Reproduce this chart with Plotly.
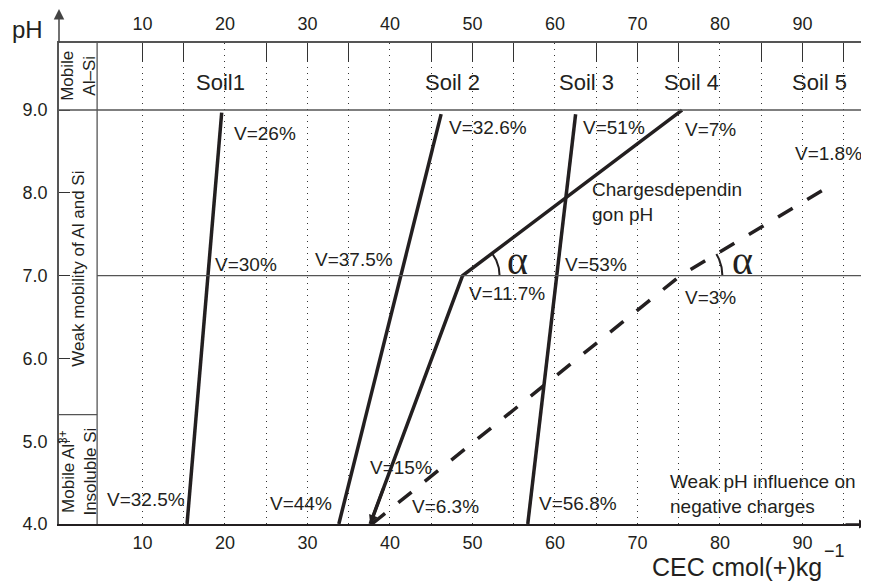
import numpy as np
import plotly.graph_objects as go

# ---------------- data ----------------
soil1_cec = [19.6, 15.4]
soil1_ph = [8.97, 4.0]
soil2_cec = [46.2, 33.8]
soil2_ph = [8.95, 4.0]
soil3_cec = [62.5, 56.7]
soil3_ph = [8.95, 4.0]
soil4_cec = [75.4, 48.8, 37.6]
soil4_ph = [9.0, 7.0, 4.0]
soil5_cec = [37.8, 75.2, 93.6]
soil5_ph = [4.0, 7.0, 8.1]

grid_vals = [10, 15, 20, 25, 30, 35, 40, 45, 50, 55, 60, 65, 70, 75, 80, 85, 90, 95]
top_tick_vals = [10, 15, 25, 30, 35, 45, 50, 55, 65, 70, 75, 85, 90, 95]
label_vals = [10, 20, 30, 40, 50, 60, 70, 80, 90]
label_text = ["10", "20", "30", "40", "50", "60", "70", "80", "90"]
ph_vals = [4, 5, 6, 7, 8, 9]
ph_text = ["4.0", "5.0", "6.0", "7.0", "8.0", "9.0"]

soil_names = ["Soil1", "Soil 2", "Soil 3", "Soil 4", "Soil 5"]
soil_name_cec = [19.5, 47.6, 63.8, 76.6, 92.1]

v_labels = ["V=26%", "V=32.6%", "V=51%", "V=7%", "V=1.8%",
            "V=30%", "V=37.5%", "V=11.7%", "V=53%", "V=3%",
            "V=15%", "V=6.3%", "V=56.8%", "V=44%", "V=32.5%"]
v_cec = [20.85, 46.9, 63.15, 75.5, 88.85,
         18.55, 30.67, 49.33, 60.97, 75.5,
         37.33, 42.43, 57.82, 25.21, 5.46]
v_ph = [8.72, 8.79, 8.79, 8.76, 8.48,
        7.13, 7.19, 6.78, 7.13, 6.73,
        4.68, 4.21, 4.25, 4.25, 4.30]

# ---------------- layout constants ----------------
X_RANGE = [-0.12, 97.7]
Y_RANGE = [4.0, 9.81]
OFF = 8                      # page body margin
W, H = 869 - OFF, 582 - OFF
PL, PT, PR, PB = 59, 43, 866, 524   # plot area on the page
ML, MT = PL - OFF, PT - OFF
MR = 869 - PR
MB = 582 - PB
PLOT_W = PR - PL
PLOT_H = PB - PT
PX_PER_X = PLOT_W / (X_RANGE[1] - X_RANGE[0])
PX_PER_Y = PLOT_H / (Y_RANGE[1] - Y_RANGE[0])

def px_to_paper(px, py):
    return (px - PL) / PLOT_W, (PB - py) / PLOT_H

INK = "#231f20"
FONT = "Liberation Sans, Arial, sans-serif"
COL_X = 4.5      # right edge of the left label column (CEC units)
COL_SEP = 5.32   # separator pH in the left column

fig = go.Figure()

def add_line(xs, ys, dash="solid", width=3.5):
    fig.add_trace(go.Scatter(x=xs, y=ys, mode="lines",
                             line=dict(color=INK, width=width, dash=dash),
                             showlegend=False, hoverinfo="skip"))

add_line(soil1_cec, soil1_ph)
add_line(soil2_cec, soil2_ph)
add_line(soil3_cec, soil3_ph)
add_line(soil4_cec, soil4_ph)
add_line(soil5_cec, soil5_ph, dash="17px,17px")

# angle arcs at the kinks (pH 7)
def add_arc(cx, cy, x_next, y_next, r_px):
    ang = np.arctan2((y_next - cy) * PX_PER_Y, (x_next - cx) * PX_PER_X)
    t = np.linspace(0, ang, 30)
    add_line(cx + r_px * np.cos(t) / PX_PER_X, cy + r_px * np.sin(t) / PX_PER_Y, width=2)

add_arc(soil4_cec[1], soil4_ph[1], soil4_cec[0], soil4_ph[0], 37)
add_arc(soil5_cec[1], soil5_ph[1], soil5_cec[2], soil5_ph[2], 42)

# invisible traces so overlay axes render
fig.add_trace(go.Scatter(x=[X_RANGE[0]], y=[Y_RANGE[0]], xaxis="x2", mode="markers",
                         marker=dict(opacity=0), showlegend=False, hoverinfo="skip"))
fig.add_trace(go.Scatter(x=[X_RANGE[0]], y=[Y_RANGE[0]], xaxis="x3", mode="markers",
                         marker=dict(opacity=0), showlegend=False, hoverinfo="skip"))

shapes = [
    dict(type="line", xref="paper", x0=0, x1=1, yref="y", y0=9, y1=9,
         line=dict(color="#555", width=1.5)),
    dict(type="line", xref="x", x0=COL_X, x1=X_RANGE[1], yref="y", y0=7, y1=7,
         line=dict(color="#555", width=1.3)),
    dict(type="line", xref="x", x0=COL_X, x1=COL_X, yref="y", y0=Y_RANGE[0], y1=Y_RANGE[1],
         line=dict(color="#555", width=1.3)),
    dict(type="line", xref="x", x0=X_RANGE[0], x1=COL_X, yref="y", y0=COL_SEP, y1=COL_SEP,
         line=dict(color="#555", width=1.3)),
]

ann = []
tf = dict(family=FONT, size=19, color=INK)
for t, xv, yv in zip(v_labels, v_cec, v_ph):
    ann.append(dict(x=xv, y=yv, xref="x", yref="y", text=t, showarrow=False,
                    xanchor="left", yanchor="middle", font=tf))
for t, xv in zip(soil_names, soil_name_cec):
    ann.append(dict(x=xv, y=9.33, xref="x", yref="y", text=t, showarrow=False,
                    xanchor="center", yanchor="middle",
                    font=dict(family=FONT, size=22, color=INK)))
# alpha labels
for xv in [55.4, 82.67]:
    ann.append(dict(x=xv, y=7.18, xref="x", yref="y", text="α", showarrow=False,
                    xanchor="center", yanchor="middle",
                    font=dict(family="Liberation Serif, serif", size=40, color=INK)))
ann.append(dict(x=64.24, y=7.89, xref="x", yref="y", text="Chargesdependin<br>gon pH",
                showarrow=False, xanchor="left", yanchor="middle", align="left",
                font=dict(family=FONT, size=19, color=INK)))
ann.append(dict(x=73.7, y=4.36, xref="x", yref="y",
                text="Weak pH influence on<br>negative charges",
                showarrow=False, xanchor="left", yanchor="middle", align="left",
                font=dict(family=FONT, size=19, color=INK)))
# left column texts
colf = dict(family=FONT, size=17, color=INK)
ann.append(dict(x=COL_X / 2 - 0.1, y=9.41, xref="x", yref="y", text="Mobile<br>Al–Si",
                textangle=-90, showarrow=False, font=colf))
ann.append(dict(x=COL_X / 2 - 0.1, y=7.08, xref="x", yref="y",
                text="Weak mobility of Al and Si", textangle=-90, showarrow=False, font=colf))
ann.append(dict(x=COL_X / 2 - 0.1, y=4.63, xref="x", yref="y",
                text="Mobile Al<sup>3+</sup><br>Insoluble Si", textangle=-90,
                showarrow=False, font=colf))
# axis titles
px_, py_ = px_to_paper(27, 29)
ann.append(dict(x=px_, y=py_, xref="paper", yref="paper", text="pH",
                showarrow=False, xanchor="center", yanchor="middle",
                font=dict(family=FONT, size=24, color=INK)))
px_, py_ = px_to_paper(650, 567)
ann.append(dict(x=px_, y=py_, xref="paper", yref="paper",
                text="CEC cmol(+)kg", showarrow=False, xanchor="left", yanchor="middle",
                font=dict(family=FONT, size=25, color=INK)))
px_, py_ = px_to_paper(834, 551)
ann.append(dict(x=px_, y=py_, xref="paper", yref="paper",
                text="−1", showarrow=False, xanchor="center", yanchor="middle",
                font=dict(family=FONT, size=18, color=INK)))
# axis arrows
px_, py_ = px_to_paper(PL, 8)
ann.append(dict(x=px_, y=py_, xref="paper", yref="paper", ax=0, ay=36,
                text="", showarrow=True, arrowhead=2, arrowsize=1.4, arrowwidth=1.5,
                arrowcolor="#444"))
px_, py_ = px_to_paper(869, PB)
ann.append(dict(x=px_, y=Y_RANGE[0], xref="paper", yref="y", ax=-25, ay=0,
                text="", showarrow=True, arrowhead=2, arrowsize=1.2, arrowwidth=1.5,
                arrowcolor=INK))
# soil 4 arrowhead at bottom
ax_pt = soil4_cec[2] + (soil4_cec[1] - soil4_cec[2]) * 0.15
ay_pt = soil4_ph[2] + (soil4_ph[1] - soil4_ph[2]) * 0.15
ann.append(dict(x=soil4_cec[2], y=soil4_ph[2], xref="x", yref="y", axref="x", ayref="y",
                ax=ax_pt, ay=ay_pt, text="", showarrow=True, arrowhead=2,
                arrowsize=0.6, arrowwidth=3, arrowcolor=INK))

fig.update_layout(
    width=W, height=H,
    margin=dict(l=ML, r=MR, t=MT, b=MB, pad=0),
    paper_bgcolor="white", plot_bgcolor="white",
    font=dict(family=FONT, color=INK),
    shapes=shapes, annotations=ann,
    xaxis=dict(range=X_RANGE, tickmode="array", tickvals=grid_vals,
               ticktext=[str(v) if v in label_vals else "" for v in grid_vals],
               showgrid=True, gridcolor="#333", gridwidth=1, griddash="1px,5px",
               showline=True, linecolor=INK, linewidth=1.5, ticks="",
               ticklabelstandoff=2,
               zeroline=False, tickfont=dict(size=18, color=INK, family=FONT)),
    xaxis2=dict(range=X_RANGE, overlaying="x", side="top", tickmode="array",
                tickvals=top_tick_vals, ticks="inside", ticklen=19, tickwidth=1.3,
                tickcolor="#333", showticklabels=False, showline=True,
                linecolor="#555", linewidth=1.5, showgrid=False, zeroline=False),
    xaxis3=dict(range=X_RANGE, overlaying="x", side="top", tickmode="array",
                tickvals=label_vals, ticktext=label_text, ticks="", showline=False,
                showgrid=False, zeroline=False, ticklabelstandoff=8,
                tickfont=dict(size=18, color=INK, family=FONT)),
    yaxis=dict(range=Y_RANGE, tickmode="array", tickvals=ph_vals, ticktext=ph_text,
               ticks="inside", ticklen=11, tickwidth=1.3, tickcolor="#333",
               showline=True, linecolor="#555", linewidth=1.5, showgrid=False,
               ticklabelstandoff=6,
               zeroline=False, tickfont=dict(size=18, color=INK, family=FONT)),
)

fig.write_html("out.html")
